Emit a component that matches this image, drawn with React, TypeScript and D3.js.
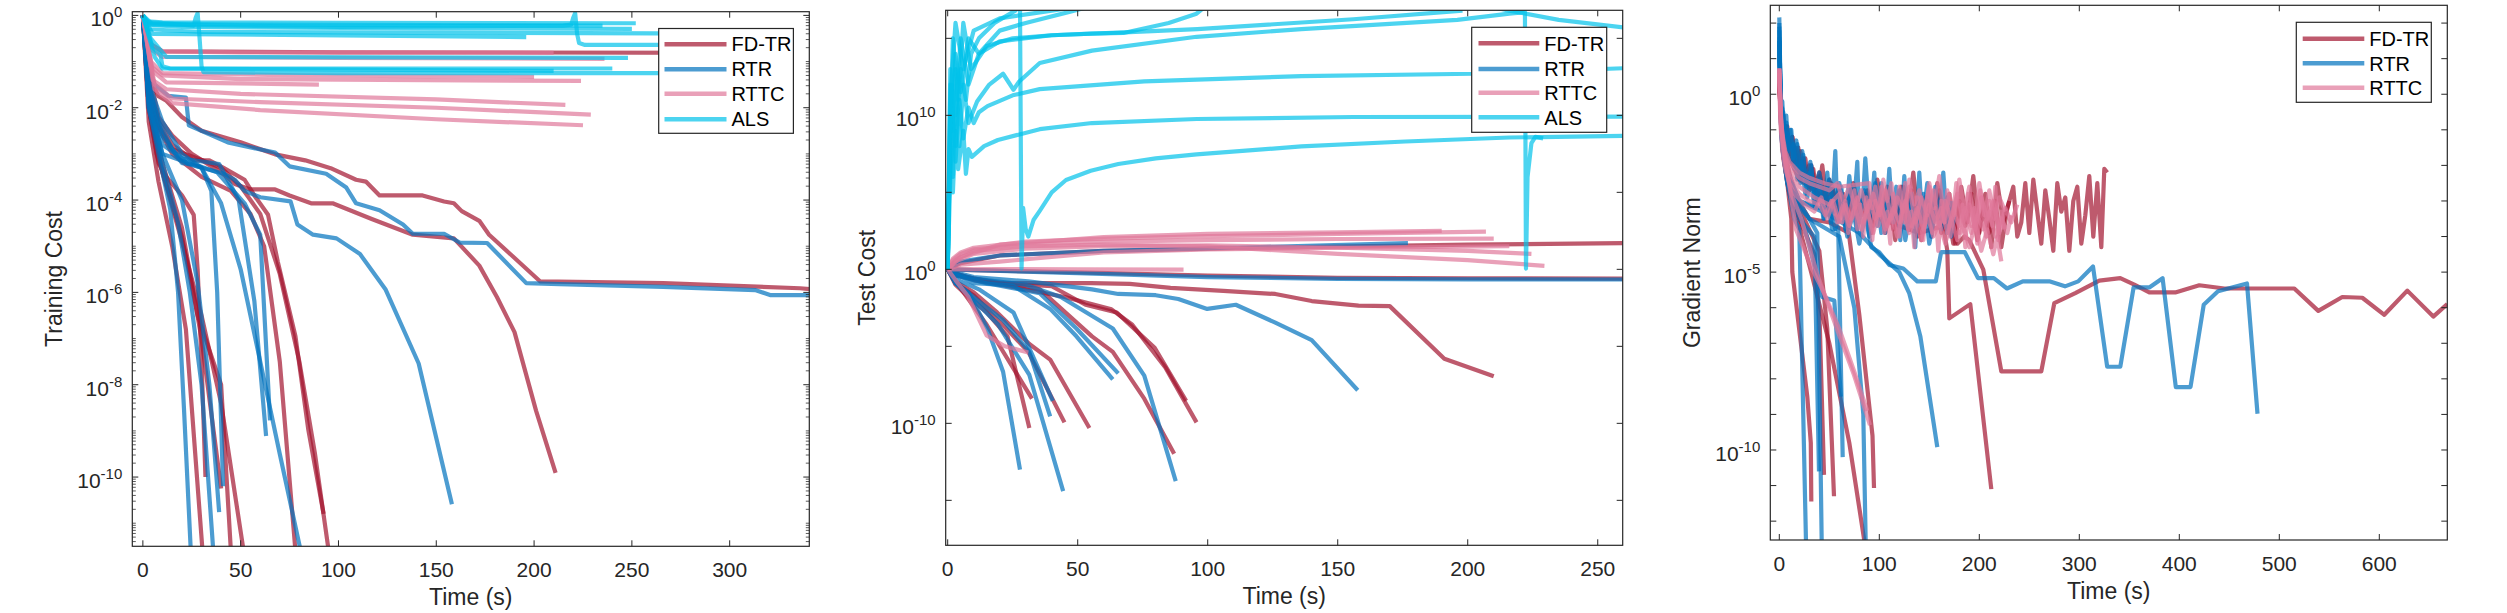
import React from "react";
import * as d3 from "d3";

// each run: [time (s), log10 of the value]
type Run = [number, number][];

// ---------- Training cost ----------
const trainFDTR: Run[] = [
  [[0,0],[3,-0.6],[10,-0.78],[100,-0.8],[320,-0.81]],
  [[0,0],[2,-1],[5,-1.5],[8,-1.75],[12,-1.85],[20,-2.2],[30,-2.5],[50,-2.75],[67.6,-3.01],[83,-3.14],[96,-3.31],[109,-3.56],[114,-3.6],[121,-3.9],[143,-3.9],[154,-4.03],[159,-4.07],[163,-4.24],[172,-4.45],[177,-4.75],[203,-5.76],[266,-5.8],[336,-5.91],[341,-5.93]],
  [[0,0],[3,-1.2],[8,-2.2],[15,-2.6],[25,-3.0],[40,-3.4],[47,-3.65],[55,-3.77],[67.6,-3.77],[75,-3.9],[86,-4.07],[97,-4.07],[117,-4.41],[138,-4.75],[159,-4.83],[172,-5.42],[181,-6.1],[190,-6.86],[201,-8.56],[211,-9.91]],
  [[0,0],[3,-1.5],[8,-2.3],[15,-2.8],[26,-3.14],[34,-3.14],[41.5,-3.31],[52,-3.56],[57,-3.9],[64,-4.32],[69,-5.34],[78,-6.95],[84.6,-8.98],[92.4,-10.8]],
  [[0,0],[3,-1.5],[8,-2.4],[15,-2.9],[28,-3.1],[40,-3.3],[50,-3.7],[60,-4.3],[70,-5.6],[80,-7.5],[88,-9.5],[95,-11.6]],
  [[0,0],[3,-2.0],[8,-3.2],[12,-3.5],[20,-3.9],[26,-4.32],[28,-5.5],[30,-7.5],[32,-10.0]],
  [[0,0],[3,-2.0],[7,-3.0],[13,-3.8],[20,-4.8],[28,-6.5],[40,-8.0],[45,-11.6]],
  [[0,0],[4,-2.2],[10,-3.4],[20,-4.9],[30,-6.5],[40,-8.4],[51.5,-11.6]],
  [[0,0],[3,-2.3],[8,-3.6],[15,-5.0],[22,-6.8],[30.5,-11.6]],
  [[0,0],[4,-2.0],[10,-3.2],[20,-4.6],[30,-7.0],[40,-10.25]],
  [[0,0],[5,-2.2],[15,-3.0],[30,-3.5],[45,-3.8],[55,-4.3],[62,-5.0],[70,-7.5],[78,-11.6]],
];
const trainRTR: Run[] = [
  [[0,0],[2,-1],[6,-1.5],[12.8,-1.74],[22,-1.78],[23.5,-2.38],[44,-2.76],[67.6,-2.97],[75,-3.27],[93.7,-3.43],[104,-3.73],[109,-4.07],[121,-4.22],[133,-4.53],[138,-4.73],[154,-4.73],[162,-4.92],[176,-4.93],[196,-5.8],[213,-5.82],[266,-5.88],[313,-5.95],[321,-6.06],[341,-6.06]],
  [[0,0],[3,-1.5],[8,-2.3],[15,-2.9],[23,-3.22],[41.5,-3.43],[47,-3.56],[52,-3.8],[60,-3.94],[75.5,-4.03],[79,-4.53],[87,-4.75],[99,-4.83],[111,-5.17],[124,-5.93],[141,-7.54],[158,-10.59]],
  [[0,0],[3,-1.6],[10,-2.6],[20,-3.2],[26,-3.22],[38,-3.4],[52,-4.07],[60,-4.75],[65,-8.77]],
  [[0,0],[3,-1.7],[10,-2.8],[20,-3.1],[39,-3.22],[49,-4.0],[57,-6.19],[63,-9.11]],
  [[0,0],[3,-1.8],[10,-3.0],[30,-3.3],[40,-4.07],[50,-5.5],[60,-7.5],[70,-9.5],[80.7,-11.6]],
  [[0,0],[3,-2.0],[8,-3.0],[14,-4.2],[18,-6],[21,-8.5],[24.5,-11.6]],
  [[0,0],[3,-2.0],[10,-3.2],[18,-4.5],[24,-6.0],[30,-8.0],[36,-11.6]],
  [[0,0],[3,-1.9],[10,-3.0],[20,-4.0],[28,-5.8],[34,-8.0],[39,-10.76]],
  [[0,0],[2,-1.2],[5,-1.7],[10,-2.3],[20,-3.0],[30,-3.3],[35,-3.8],[38,-6.0],[41,-10.2]],
];
const trainRTTC: Run[] = [
  [[0,0],[3,-0.6],[10,-0.78],[50,-0.8],[210,-0.81]],
  [[0,0],[3,-0.7],[10,-0.9],[100,-0.92],[236,-0.94]],
  [[0,0],[4,-1.1],[10,-1.3],[50,-1.38],[224,-1.42]],
  [[0,0],[5,-1.2],[12,-1.45],[90,-1.5]],
  [[0,0],[5,-1.4],[12,-1.6],[50,-1.7],[150,-1.82],[216,-1.94]],
  [[0,0],[6,-1.5],[15,-1.8],[60,-1.88],[150,-2.0],[229,-2.15]],
  [[0,0],[6,-1.6],[15,-1.9],[60,-2.05],[150,-2.25],[225,-2.38]],
  [[0,0],[4,-1.0],[10,-1.25],[80,-1.3],[200,-1.33]],
];
const trainALS: Run[] = [
  [[0,0],[2,-0.13],[10,-0.15],[100,-0.16],[252,-0.17]],
  [[0,-0.03],[3,-0.18],[50,-0.2],[235,-0.22]],
  [[0,0],[2,-0.2],[20,-0.25],[150,-0.28],[250,-0.29]],
  [[0,0],[3,-0.3],[30,-0.36],[263,-0.39],[295,-0.4]],
  [[0,0],[5,-0.4],[196,-0.47]],
  [[0,0],[3,-0.15],[20,-0.2],[26,-0.22],[27,-0.05],[28,0.05],[29,-0.5],[30,-1.1],[31,-1.23],[100,-1.25],[300,-1.25]],
  [[0,0],[5,-0.2],[100,-0.25],[215,-0.22],[219,-0.2],[220,-0.05],[221,0.05],[222,-0.4],[223,-0.6],[226,-0.64],[310,-0.64]],
  [[0,0],[4,-0.5],[8,-0.7],[10,-0.8],[12,-0.9],[248,-0.92]],
  [[0,0],[5,-0.7],[9,-0.85],[10,-1.1],[14,-1.15],[240,-1.15]],
  [[0,0],[6,-0.9],[10,-1.15],[210,-1.2]],
];

// ---------- Test cost ----------
const testFDTR: Run[] = [
  [[0,0],[10,-0.05],[50,-0.2],[100,-0.4],[150,-0.55],[200,-0.58],[260,-0.6]],
  [[0,0],[5,0.4],[20,0.9],[60,1.2],[120,1.4],[200,1.6],[260,1.7]],
  [[0,0],[2,-0.15],[7,-0.5],[20,-0.9],[35.4,-0.9],[55,-0.9],[70,-0.95],[85.7,-1.2],[106,-1.4],[126,-1.6],[140,-2.06],[158,-2.36],[170,-2.39],[191,-5.8],[210,-6.94]],
  [[0,0],[3,-0.3],[10,-0.6],[20,-0.9],[30,-1.0],[40,-1.1],[53,-2.3],[65,-2.8],[79.6,-5.1],[91.7,-8.54]],
  [[0,0],[3,-0.3],[10,-0.7],[30,-1.3],[45,-1.8],[63,-2.6],[71,-3.6],[83.7,-6.38],[95.7,-9.94]],
  [[0,0],[3,-0.4],[15,-0.8],[35.4,-1.3],[55.5,-4.35],[63.5,-5.36],[75.6,-8.4],[87.1,-11.97]],
  [[0,0],[3,-0.8],[10,-1.5],[19,-2.8],[31.4,-4.85],[39.4,-5.86],[54.5,-10.3]],
  [[0,0],[3,-0.9],[10,-1.7],[21,-3.56],[31,-5.36],[44.9,-9.94]],
  [[0,0],[3,-1.0],[8,-1.8],[15,-2.8],[23,-4.35],[31.4,-10.3]],
  [[0,0],[4,-1.0],[15,-3.6],[32.4,-8.4]],
];
const testRTR: Run[] = [
  [[0,0],[10,-0.05],[50,-0.25],[100,-0.5],[150,-0.62],[200,-0.65],[260,-0.66]],
  [[0,0],[5,0.5],[20,0.9],[60,1.2],[120,1.45],[177,1.7]],
  [[0,0],[3,-0.2],[10,-0.5],[31,-0.78],[55.5,-1.3],[65.6,-1.6],[80,-1.68],[88.7,-1.93],[99.8,-2.57],[110.8,-2.3],[126,-3.46],[140,-4.6],[157.7,-7.85]],
  [[0,0],[3,-0.3],[10,-0.6],[30,-1.0],[43.5,-1.8],[63.5,-3.84],[75.6,-6.9],[87.7,-13.75]],
  [[0,0],[3,-0.3],[10,-0.9],[25,-1.05],[39.4,-2.57],[49.5,-4.35],[63.5,-7.14]],
  [[0,0],[3,-0.4],[15,-0.9],[35.4,-1.55],[49.5,-3.84],[65.6,-6.76]],
  [[0,0],[3,-0.9],[8,-1.5],[15.3,-3.86],[21.3,-6.65],[27.8,-13.0]],
  [[0,0],[3,-0.9],[10,-2.0],[19.3,-3.56],[31.4,-6.86],[44.4,-14.4]],
  [[0,0],[4,-1.0],[10,-1.8],[21.3,-3.3],[31.4,-5.36],[39.4,-9.55]],
  [[0,0],[4,-0.7],[12,-1.3],[25.3,-2.8],[40.4,-8.54]],
];
const testRTTC: Run[] = [
  [[0,0],[2,0.7],[5,1.1],[10,1.4],[30,1.8],[60,2.0],[100,2.15],[150,2.3],[207,2.45]],
  [[0,0],[2,0.6],[5,1.0],[10,1.3],[30,1.6],[60,1.8],[100,1.9],[150,1.97],[210,2.0]],
  [[0,0],[3,0.5],[10,1.0],[30,1.35],[60,1.5],[100,1.55],[150,1.4],[200,1.2],[224.5,1.0]],
  [[0,0],[3,0.6],[10,1.2],[30,1.5],[60,1.6],[100,1.5],[150,1.0],[200,0.6],[229.5,0.23]],
  [[0,0],[5,0.3],[20,0.5],[40,0.8],[60,1.1],[100,1.3],[150,1.4],[216,1.5]],
  [[0,0],[20,0.02],[50,0.0],[90.7,-0.02]],
  [[0,0],[3,-0.7],[8,-1.8],[15,-4.3],[22,-5.0],[31,-5.4]],
  [[0,0],[5,0.8],[20,1.6],[60,2.1],[100,2.3],[150,2.4],[190,2.5]],
];
const testALS: Run[] = [
  [[0,0],[1,6],[2,10],[3,8],[5,13],[7,11],[9,14],[12,15],[18,16],[26,16.8],[27.8,17.2],[28.4,0.05],[29,4],[30,2.6],[31,2.13],[33,3.2],[35.4,3.8],[40,5.0],[45.5,5.8],[55,6.4],[65.6,6.84],[80,7.2],[95.7,7.47],[136,7.98],[176,8.3],[216,8.56],[260,8.67]],
  [[0,0],[0.3,3.5],[1,8],[2,5],[3,9],[4,6.5],[6,9],[7,6.2],[8,7.8],[9.3,7.3],[14,8.0],[19.3,8.4],[35.4,9.1],[55.5,9.5],[95.7,9.76],[156,9.89],[222,9.9],[260,9.92]],
  [[0,0],[0.5,5],[1.5,12],[3,7],[4.5,11],[6,8.5],[8,10.5],[10,9.5],[12,10.2],[15.3,10.6],[25,11.3],[35.4,11.7],[75.6,12.2],[136,12.55],[202,12.7],[260,13.06]],
  [[0,0],[1,10],[2,6],[3,13],[4.5,8],[6,12],[8,9.5],[11.3,10.9],[16,12],[21.3,12.7],[25.3,11.66],[27.5,12.2],[35.4,13.4],[55.5,14.2],[95.7,15.1],[136,15.6],[196,16.2],[216,16.6],[222,16.7],[222.4,0.05],[223,6],[224.5,8.2],[226,8.6],[229,8.5]],
  [[0,0],[1,12],[2,9],[3,14],[5,11.5],[8,15],[12,14],[20,15.5],[30,16],[47.5,16.75],[60,17.3]],
  [[0,0],[1,9],[2,15],[4,11],[6,16],[9,13],[15,14.5],[25,15],[40,15.2],[55,15.3],[67.6,15.35],[85,16],[95.7,16.6],[100,17.2]],
  [[0,0],[1,13],[3,10],[5,15],[8,12],[12,14],[20,14.8],[40,15.2],[70,15.4],[96,15.6],[156,16.24],[198,16.8]],
  [[0,0],[1,11],[3,16],[6,13],[10,15.5],[20,16.3],[40,16.8],[60,17.3],[150,17.6],[205,17.2],[216,16.8],[235,16.2],[260,15.7]],
];

// ---------- Gradient norm ----------
const gradFDTR: Run[] = [
  [[0,0.5],[2,-0.8],[4,-1.2],[6,-1.0],[8,-1.6],[10,-1.3],[13,-1.9],[16,-1.5],[20,-2.2],[24,-1.8],[28,-2.5],[32,-2.0],[36,-2.6],[40,-2.2],[45,-2.9],[50,-2.4],[55,-3.1],[60,-2.6],[66,-3.3],[72,-2.7],[78,-3.5],[84,-2.9],[90,-3.6],[96,-2.8],[102,-3.4],[108,-2.6],[114,-3.8],[120,-3.0],[126,-3.5],[132,-2.7],[138,-4.0],[144,-3.1],[150,-3.6],[156,-2.9],[162,-3.9],[168,-3.2],[174,-4.2],[180,-3.0],[186,-3.7],[192,-2.8],[198,-4.1],[204,-3.3],[210,-3.9],[216,-3.0],[222,-4.3],[228,-3.2],[234,-2.6],[238,-4.0],[242,-3.6],[246,-2.5],[250,-3.9],[254,-2.4],[258,-3.3],[262,-4.2],[266,-2.7],[270,-3.5],[274,-4.4],[278,-2.5],[282,-3.3],[286,-2.9],[290,-4.4],[294,-3.0],[298,-2.6],[302,-4.2],[306,-3.4],[310,-2.3],[314,-4.0],[318,-2.5],[322,-4.3],[325,-2.1],[328,-2.2]],
  [[0,0.4],[2,-0.6],[4,-1.1],[7,-0.9],[10,-1.5],[13,-1.2],[17,-1.9],[21,-1.6],[25,-2.3],[30,-2.0],[35,-2.7],[40,-2.3],[46,-3.0],[52,-2.5],[58,-3.2],[64,-2.8],[70,-3.6],[76,-2.9],[82,-3.4],[88,-2.7],[94,-3.7],[100,-3.1],[106,-3.9],[112,-3.0],[118,-3.5],[124,-2.6],[130,-3.8],[136,-3.2],[142,-4.1],[148,-3.0],[154,-3.6],[160,-2.7],[166,-3.8],[172,-3.3],[178,-4.2],[185,-4.0],[190,-4.1],[204,-4.93],[222,-7.79],[262,-7.79],[275,-5.87],[296,-5.59],[320,-5.24],[341,-5.17],[355,-5.35],[370,-5.57],[396,-5.57],[420,-5.37],[445,-5.46],[515,-5.46],[539,-6.09],[563,-5.7],[583,-5.72],[605,-6.2],[628,-5.52],[654,-6.25],[668,-5.9]],
  [[0,0.5],[1,-0.4],[2,-1.0],[4,-0.6],[6,-1.4],[8,-0.9],[10,-1.7],[13,-1.2],[16,-2.0],[19,-1.5],[22,-2.4],[26,-1.8],[30,-2.7],[34,-2.1],[38,-3.0],[43,-2.0],[48,-3.2],[53,-2.6],[58,-3.5],[63,-2.9],[68,-3.8],[74,-2.5],[80,-3.3],[86,-2.8],[92,-3.9],[98,-2.4],[104,-3.4],[110,-2.9],[116,-4.1],[122,-2.6],[128,-3.6],[134,-2.2],[140,-3.8],[146,-2.9],[152,-4.0],[158,-2.5],[164,-3.5],[170,-2.8],[176,-4.2],[182,-2.6],[188,-3.6],[194,-2.3],[200,-3.9],[206,-2.8],[212,-4.3],[218,-2.5],[224,-3.6],[230,-3.0]],
  [[0,0.3],[5,-1.5],[20,-2.4],[50,-3.0],[80,-3.3],[110,-3.6],[140,-3.9],[164,-3.7],[168,-4.4],[170,-6.3],[191,-5.9],[212,-11.1]],
  [[0,0.4],[3,-1.5],[8,-2.5],[12,-3.5],[13,-5.0],[28,-8.5],[31.5,-9.8],[32,-11.45]],
  [[0,0.2],[4,-1.8],[10,-2.8],[20,-3.5],[35,-4.5],[40.5,-6.5],[44.7,-10.7]],
  [[0,0.2],[4,-1.6],[12,-2.7],[25,-3.5],[40,-4.4],[48,-6.6],[54.7,-11.3]],
  [[0,0.3],[5,-1.6],[15,-2.8],[30,-3.5],[50,-3.6],[69.5,-3.9],[80,-6.2],[93.2,-9.6],[94.7,-11.07]],
  [[0,0.3],[5,-1.8],[15,-3.2],[30,-4.8],[50,-7.0],[70,-9.8],[85.3,-12.6]],
];
const gradRTR: Run[] = [
  [[0,2.16],[1,0.5],[2,-0.5],[3,-0.2],[5,-1.2],[7,-0.8],[9,-1.5],[11,-1.0],[14,-1.8],[17,-1.3],[20,-2.2],[23,-1.6],[27,-2.5],[31,-1.9],[35,-2.8],[40,-2.2],[45,-3.0],[50,-2.4],[55,-3.3],[60,-2.5],[66,-3.5],[72,-2.6],[78,-3.8],[84,-2.8],[86,-1.8],[90,-3.4],[96,-2.5],[102,-3.9],[108,-3.0],[114,-3.6],[120,-2.7],[126,-4.1],[132,-3.1],[138,-3.7],[144,-2.8],[150,-4.2],[156,-3.3],[162,-3.8],[168,-2.9],[172,-4.0],[175,-3.4]],
  [[0,1.9],[1,-0.2],[2,-0.9],[3,-0.4],[5,-1.3],[7,-0.6],[9,-1.6],[12,-1.0],[15,-2.1],[18,-1.4],[21,-2.5],[24,-1.7],[28,-2.9],[32,-2.0],[36,-3.2],[40,-2.4],[44,-3.5],[48,-2.2],[52,-3.6],[56,-1.6],[58,-3.3],[62,-2.6],[66,-3.8],[70,-2.3],[74,-3.4],[78,-1.9],[80,-3.6],[85,-2.7],[90,-4.0],[95,-2.2],[98,-3.7],[102,-2.5],[106,-3.9],[110,-2.1],[113,-3.5],[117,-2.6],[121,-4.1],[125,-2.3],[128,-3.7],[132,-2.8],[136,-4.3],[140,-2.2],[143,-3.6],[148,-2.5],[152,-4.0],[156,-2.6],[160,-3.5],[164,-2.2],[168,-3.9],[172,-3.0]],
  [[0,1.6],[1,0],[2,-0.8],[4,-0.5],[6,-1.5],[8,-1.1],[11,-1.9],[14,-1.4],[18,-2.4],[22,-1.9],[26,-2.8],[30,-2.2],[35,-3.1],[40,-2.6],[45,-3.5],[50,-2.9],[56,-3.8],[62,-3.1],[68,-4.0],[74,-3.3],[80,-4.2],[86,-3.4],[92,-4.3],[100,-4.44],[110,-4.8],[124,-4.9],[138,-5.26],[156.5,-5.26],[161.8,-4.44],[185.5,-4.44],[198.7,-5.17],[214.5,-5.17],[227.7,-5.46],[243.5,-5.26],[270,-5.26],[285.7,-5.4],[298.9,-5.26],[313.7,-4.84],[327.9,-7.66],[341,-7.66],[354.3,-5.43],[370,-5.43],[383.3,-5.17],[396.5,-8.23],[411.2,-8.23],[424.4,-5.92],[438.7,-5.54],[467.7,-5.32],[478.2,-8.98]],
  [[0,1.4],[2,-0.9],[6,-2.0],[20,-3.0],[50,-3.4],[80,-3.9],[100,-4.5],[120,-5.0],[130,-5.6],[141,-6.8],[158,-9.92]],
  [[0,2.0],[1,-0.5],[3,-1.5],[8,-2.5],[15,-3.5],[20,-3.8],[26.7,-12.6]],
  [[0,1.5],[2,-1.0],[6,-2.0],[15,-3.0],[30,-3.5],[38,-3.9],[42.4,-12.6]],
  [[0,1.8],[2,-1.0],[8,-2.2],[20,-3.0],[40,-3.2],[48.4,-3.2],[53,-3.8],[58.9,-3.75],[63.4,-10.2]],
  [[0,1.2],[2,-1.2],[8,-2.5],[20,-3.5],[35,-4.0],[39.7,-10.6]],
  [[0,1.0],[3,-1.5],[10,-2.6],[25,-3.7],[43,-5.7],[55,-5.8],[61.6,-8.5]],
  [[0,1.5],[3,-1.4],[10,-2.6],[30,-3.5],[60,-4.0],[75,-6.0],[84,-9.0],[86.4,-12.6]],
];
const gradRTTC: Run[] = [
  [[0,0.73],[1,-0.3],[2,-0.9],[4,-1.4],[7,-1.8],[10,-2.0],[15,-2.2],[20,-2.35],[30,-2.5],[40,-2.6],[50,-2.7],[58,-2.5],[64,-3.0],[70,-2.6],[76,-3.2],[82,-2.7],[88,-3.3],[94,-2.8],[100,-3.4],[106,-2.7],[112,-3.5],[118,-2.9],[124,-3.3],[130,-2.6],[136,-3.6],[142,-2.9],[148,-3.4],[154,-2.7],[160,-3.7],[166,-3.0],[172,-3.5],[178,-2.8],[184,-3.6],[190,-3.1],[196,-3.8],[202,-2.9],[208,-3.5],[214,-3.0],[220,-3.9],[226,-3.2],[232,-3.6],[238,-3.1]],
  [[0,0.6],[1,-0.6],[3,-1.3],[6,-1.9],[10,-2.3],[15,-2.6],[20,-2.8],[30,-3.0],[40,-3.1],[46,-3.4],[52,-3.0],[58,-3.6],[64,-3.1],[70,-3.7],[76,-3.2],[82,-3.8],[88,-3.3],[94,-3.9],[100,-3.2],[106,-3.8],[112,-3.4],[118,-4.0],[124,-3.3],[130,-3.9],[136,-3.5],[142,-4.1],[148,-3.4],[154,-4.0],[160,-3.6],[166,-4.2],[172,-3.5],[178,-4.1],[184,-3.7],[190,-4.3],[196,-3.6],[202,-4.4],[208,-3.8],[214,-4.5],[218,-4.0],[222,-4.7]],
  [[0,0.5],[1,-0.8],[3,-1.6],[6,-2.1],[10,-2.5],[15,-2.8],[25,-3.1],[35,-3.3],[42,-2.9],[48,-3.5],[54,-3.0],[60,-3.6],[66,-3.1],[72,-3.5],[78,-2.9],[84,-3.6],[90,-3.0],[96,-3.5],[102,-3.1],[108,-3.7],[114,-3.2],[120,-3.6],[126,-3.0],[132,-3.7],[138,-3.2],[144,-3.8],[150,-3.1],[156,-3.6],[162,-3.2],[168,-3.9],[174,-3.3],[180,-3.7],[186,-3.2],[192,-3.9],[198,-3.4],[204,-3.8],[210,-3.3],[216,-4.0],[222,-3.5],[228,-3.9],[232,-3.4]],
  [[0,0.6],[2,-1.0],[5,-1.7],[10,-2.2],[20,-2.6],[35,-2.9],[50,-3.1],[60,-2.8],[63,-3.6],[66,-3.0],[69,-3.9],[72,-3.2],[75,-2.7],[78,-3.8],[81,-3.1],[84,-4.0],[87,-2.9],[90,-3.5],[93,-4.1],[96,-3.0],[99,-3.7],[102,-2.6],[105,-3.9],[108,-3.3],[111,-4.2],[114,-2.8],[117,-3.6],[120,-4.0],[123,-3.1],[126,-2.5],[129,-3.8],[132,-3.3],[135,-4.3],[138,-2.9],[141,-3.5],[144,-4.1],[147,-3.0],[150,-2.6],[153,-3.9],[156,-3.2],[159,-4.4],[162,-3.0],[165,-3.6],[168,-2.7],[171,-4.0],[174,-3.4],[177,-2.5],[180,-3.9],[183,-3.1],[186,-4.3],[189,-2.8],[192,-3.7],[195,-3.2],[198,-4.2],[201,-2.7],[204,-3.5],[207,-4.0],[210,-3.0],[213,-3.7],[216,-2.6],[219,-4.1],[222,-3.3],[225,-3.8]],
  [[0,0.7],[1,-0.4],[3,-1.1],[6,-1.6],[10,-1.9],[20,-2.2],[30,-2.35],[45,-2.5],[60,-2.6],[90,-2.5],[93,-3.2],[96,-2.6],[100,-3.4],[104,-2.4],[108,-3.0],[112,-2.5],[116,-3.3],[120,-2.6],[125,-3.6],[130,-2.4],[135,-3.1],[140,-2.7],[145,-3.5],[150,-2.5],[155,-3.2],[160,-2.3],[165,-3.6],[170,-2.8],[175,-3.4],[180,-2.4],[185,-3.3],[190,-2.6],[195,-3.7],[200,-2.5],[205,-3.4],[210,-2.7],[215,-3.5],[220,-2.9],[226,-3.3]],
  [[0,0.73],[2,-0.8],[6.2,-2.0],[12,-2.8],[22,-3.5],[37.8,-5.05],[58.9,-6.7],[74.8,-7.9],[90.7,-9.3]],
  [[0,0.7],[2,-1.0],[8,-2.2],[16.7,-3.8],[32.6,-4.9],[45,-5.6],[60,-6.6],[75,-7.8],[88,-8.9]],
];

// ---------- ticks ----------
const trainXTicks = [0, 50, 100, 150, 200, 250, 300];
const testXTicks = [0, 50, 100, 150, 200, 250];
const gradXTicks = [0, 100, 200, 300, 400, 500, 600];
const trainYTicks = [-10, -8, -6, -4, -2, 0];
const testYTicks = [-15, -10, -5, 0, 5, 10, 15];
const testYLabels = [-10, 0, 10];
const gradYTicks = [-12, -11, -10, -9, -8, -7, -6, -5, -4, -3, -2, -1, 0, 1, 2];
const gradYLabels = [-10, -5, 0];

const COLORS: Record<string, string> = {
  "FD-TR": "#A2142F",
  RTR: "#0072BD",
  RTTC: "#DF789A",
  ALS: "#00C2EA",
};

const FONT = "'Liberation Sans', Arial, Helvetica, sans-serif";
const INK = "#262626";

interface PanelCfg {
  id: string;
  frame: { left: number; right: number; top: number; bottom: number };
  xDomain: [number, number];
  yExp: [number, number];
  xTicks: number[];
  yTicks: number[];
  yLabels: number[];
  logMinor: boolean;
  yTitle: string;
  yTitleX: number;
  series: { name: string; runs: Run[] }[];
  legend: { left: number; right: number; top: number; bottom: number; lineX0: number; lineX1: number; textX: number; rows: number[] };
}

function Panel({ cfg }: { cfg: PanelCfg }) {
  const f = cfg.frame;
  const x = d3.scaleLinear().domain(cfg.xDomain).range([f.left, f.right]);
  const y = d3.scaleLog().domain([10 ** cfg.yExp[0], 10 ** cfg.yExp[1]]).range([f.bottom, f.top]);
  const line = d3.line<[number, number]>().x(d => x(d[0])).y(d => y(10 ** d[1]));

  const minor: number[] = [];
  if (cfg.logMinor) {
    for (let n = Math.floor(cfg.yExp[0]); n <= Math.ceil(cfg.yExp[1]); n++) {
      for (let k = 1; k <= 9; k++) {
        if (k === 1 && cfg.yTicks.includes(n)) continue;
        const v = k * 10 ** n;
        if (v >= 10 ** cfg.yExp[0] && v <= 10 ** cfg.yExp[1]) minor.push(v);
      }
    }
  }

  const lg = cfg.legend;
  return (
    <g>
      <defs>
        <clipPath id={cfg.id}>
          <rect x={f.left} y={f.top} width={f.right - f.left} height={f.bottom - f.top} />
        </clipPath>
      </defs>
      <g clipPath={`url(#${cfg.id})`} fill="none" strokeLinejoin="round" strokeLinecap="butt">
        {cfg.series.map(s =>
          s.runs.map((r, i) => (
            <path key={s.name + i} d={line(r) || ""} stroke={COLORS[s.name]} strokeOpacity={0.7} strokeWidth={4.2} />
          ))
        )}
      </g>
      {/* ticks */}
      <g stroke={INK} strokeWidth={1}>
        {cfg.xTicks.map(t => (
          <g key={"xt" + t}>
            <line x1={x(t)} x2={x(t)} y1={f.bottom} y2={f.bottom - 6} />
            <line x1={x(t)} x2={x(t)} y1={f.top} y2={f.top + 6} />
          </g>
        ))}
        {cfg.yTicks.map(e => (
          <g key={"yt" + e}>
            <line x1={f.left} x2={f.left + 6} y1={y(10 ** e)} y2={y(10 ** e)} />
            <line x1={f.right} x2={f.right - 6} y1={y(10 ** e)} y2={y(10 ** e)} />
          </g>
        ))}
        {minor.map((v, i) => (
          <g key={"mt" + i} strokeOpacity={0.75}>
            <line x1={f.left} x2={f.left + 3.5} y1={y(v)} y2={y(v)} />
            <line x1={f.right} x2={f.right - 3.5} y1={y(v)} y2={y(v)} />
          </g>
        ))}
      </g>
      <rect x={f.left} y={f.top} width={f.right - f.left} height={f.bottom - f.top} fill="none" stroke={INK} strokeWidth={1.2} />
      {/* tick labels */}
      <g fontFamily={FONT} fill={INK}>
        {cfg.xTicks.map(t => (
          <text key={"xl" + t} x={x(t)} y={f.bottom + 30.5} fontSize={21} textAnchor="middle">{t}</text>
        ))}
        {cfg.yLabels.map(e => (
          <text key={"yl" + e} x={f.left - 10} y={y(10 ** e) + 11} fontSize={21} textAnchor="end">
            10<tspan dy={-9} fontSize={15}>{String(e)}</tspan>
          </text>
        ))}
        <text x={(f.left + f.right) / 2} y={f.bottom + 59} fontSize={23} textAnchor="middle">Time (s)</text>
        <text transform={`translate(${cfg.yTitleX},${(f.top + f.bottom) / 2}) rotate(-90)`} fontSize={23} textAnchor="middle">{cfg.yTitle}</text>
      </g>
      {/* legend */}
      <rect x={lg.left} y={lg.top} width={lg.right - lg.left} height={lg.bottom - lg.top} fill="#fff" stroke={INK} strokeWidth={1.2} />
      {cfg.series.map((s, i) => (
        <g key={"lg" + s.name}>
          <line x1={lg.lineX0} x2={lg.lineX1} y1={lg.rows[i]} y2={lg.rows[i]} stroke={COLORS[s.name]} strokeOpacity={0.7} strokeWidth={4.4} />
          <text x={lg.textX} y={lg.rows[i] + 7.2} fontFamily={FONT} fontSize={20} fill="#000">{s.name}</text>
        </g>
      ))}
    </g>
  );
}

const panels: PanelCfg[] = [
  {
    id: "clipTrain",
    frame: { left: 132.3, right: 809.3, top: 11.7, bottom: 546.3 },
    xDomain: [-5.4, 340.7],
    yExp: [-11.5, 0.08],
    xTicks: trainXTicks,
    yTicks: trainYTicks,
    yLabels: trainYTicks,
    logMinor: true,
    yTitle: "Training Cost",
    yTitleX: 62,
    series: [
      { name: "FD-TR", runs: trainFDTR },
      { name: "RTR", runs: trainRTR },
      { name: "RTTC", runs: trainRTTC },
      { name: "ALS", runs: trainALS },
    ],
    legend: { left: 658.7, right: 793.4, top: 28.5, bottom: 133.3, lineX0: 664.5, lineX1: 726.5, textX: 731.5, rows: [44.2, 69.2, 93.8, 119.2] },
  },
  {
    id: "clipTest",
    frame: { left: 945.7, right: 1622.7, top: 10.3, bottom: 545.3 },
    xDomain: [-0.77, 259.6],
    yExp: [-17.92, 16.82],
    xTicks: testXTicks,
    yTicks: testYTicks,
    yLabels: testYLabels,
    logMinor: false,
    yTitle: "Test Cost",
    yTitleX: 874.5,
    series: [
      { name: "FD-TR", runs: testFDTR },
      { name: "RTR", runs: testRTR },
      { name: "RTTC", runs: testRTTC },
      { name: "ALS", runs: testALS },
    ],
    legend: { left: 1471.7, right: 1606.7, top: 27.3, bottom: 132.3, lineX0: 1478.5, lineX1: 1539.3, textX: 1544.3, rows: [43.3, 69, 92.7, 117.3] },
  },
  {
    id: "clipGrad",
    frame: { left: 1770.3, right: 2447.3, top: 5.3, bottom: 540 },
    xDomain: [-9, 668],
    yExp: [-12.53, 2.5],
    xTicks: gradXTicks,
    yTicks: gradYTicks,
    yLabels: gradYLabels,
    logMinor: false,
    yTitle: "Gradient Norm",
    yTitleX: 1699.5,
    series: [
      { name: "FD-TR", runs: gradFDTR },
      { name: "RTR", runs: gradRTR },
      { name: "RTTC", runs: gradRTTC },
    ],
    legend: { left: 2296.3, right: 2431.3, top: 22.3, bottom: 102.3, lineX0: 2302.7, lineX1: 2364.3, textX: 2369.3, rows: [38.7, 63.3, 87.7] },
  },
];

export default function App() {
  return (
    <div style={{ position: "absolute", left: 0, top: 0 }}>
      <svg width={2507} height={613} style={{ display: "block", background: "#fff" }}>
        {panels.map(p => (
          <Panel key={p.id} cfg={p} />
        ))}
      </svg>
    </div>
  );
}
